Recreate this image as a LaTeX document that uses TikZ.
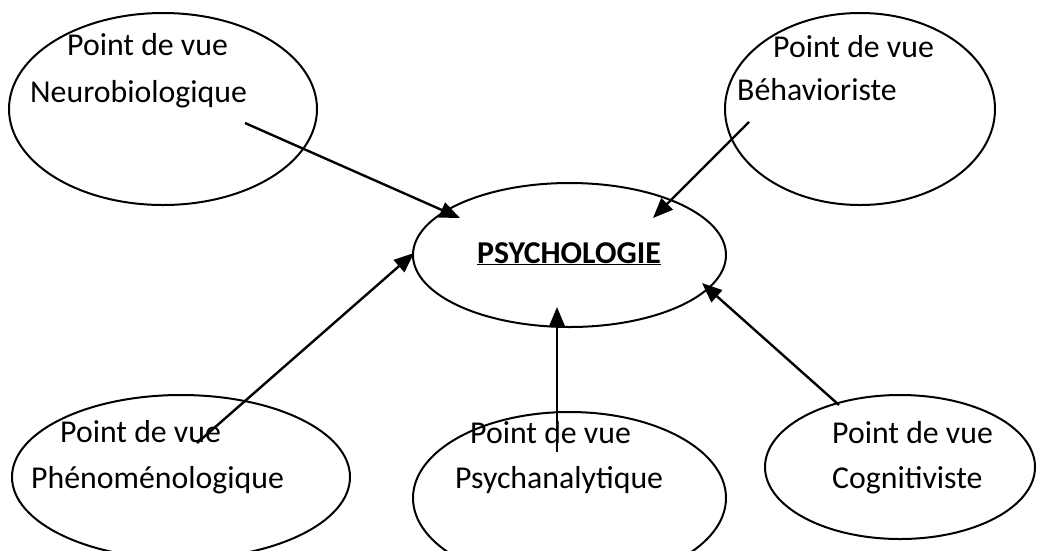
\documentclass[tikz,border=0pt]{standalone}
\usepackage{fontspec}
\setmainfont{Carlito}
\usetikzlibrary{shapes.geometric,arrows.meta}
\begin{document}
\begin{tikzpicture}[x=1pt,y=-1pt,
  oval/.style={draw,ellipse,line width=2pt,inner sep=0pt},
  lbl/.style={anchor=base west,inner sep=0pt,font=\fontsize{31.8}{36}\selectfont},
  conn/.style={line width=2.4pt,-{Triangle[length=20pt,width=16pt]}}]
\useasboundingbox (0,0) rectangle (1038,550);
\clip (0,0) rectangle (1038,550);
% ellipses
\node[oval,minimum width=308pt,minimum height=192pt] (nb) at (163,109) {};
\node[oval,minimum width=270pt,minimum height=192pt] (be) at (860,109) {};
\node[oval,minimum width=313pt,minimum height=144pt] (psy) at (569.5,255) {};
\node[oval,minimum width=338pt,minimum height=164pt] (ph) at (181,477) {};
\node[oval,minimum width=313pt,minimum height=172pt] (pa) at (569.5,498) {};
\node[oval,minimum width=270pt,minimum height=144pt] (co) at (900,467) {};
% texts
\node[lbl] (nb1) at (67,55) {Point de vue};
\node[lbl] (nb2) at (30,102) {Neurobiologique};
\node[lbl] (be1) at (773,57) {Point de vue};
\node[lbl] (be2) at (737,100) {Béhavioriste};
\node[lbl,font=\fontsize{31.8}{36}\selectfont\bfseries] (psyt) at (477,263) {\underline{PSYCHOLOGIE}};
\node[lbl] (ph1) at (60,442) {Point de vue};
\node[lbl] (ph2) at (31,488) {Phénoménologique};
\node[lbl] (pa1) at (470,443) {Point de vue};
\node[lbl] (pa2) at (455,488) {Psychanalytique};
\node[lbl] (co1) at (832,443) {Point de vue};
\node[lbl] (co2) at (832,488) {Cognitiviste};
% connector ends
\coordinate (s1) at (245,123);
\coordinate (t1) at (460,218);
\coordinate (s2) at (749,122);
\coordinate (t2) at (653,218);
\coordinate (s3) at (197,443);
\coordinate (t3) at (414,253);
\coordinate (s4) at (557,452);
\coordinate (t4) at (557,307);
\coordinate (s5) at (839,405);
\coordinate (t5) at (702,283);
\draw[conn] (s1) -- (t1);
\draw[conn] (s2) -- (t2);
\draw[conn] (s3) -- (t3);
\draw[conn] (s4) -- (t4);
\draw[conn] (s5) -- (t5);
\end{tikzpicture}
\end{document}
